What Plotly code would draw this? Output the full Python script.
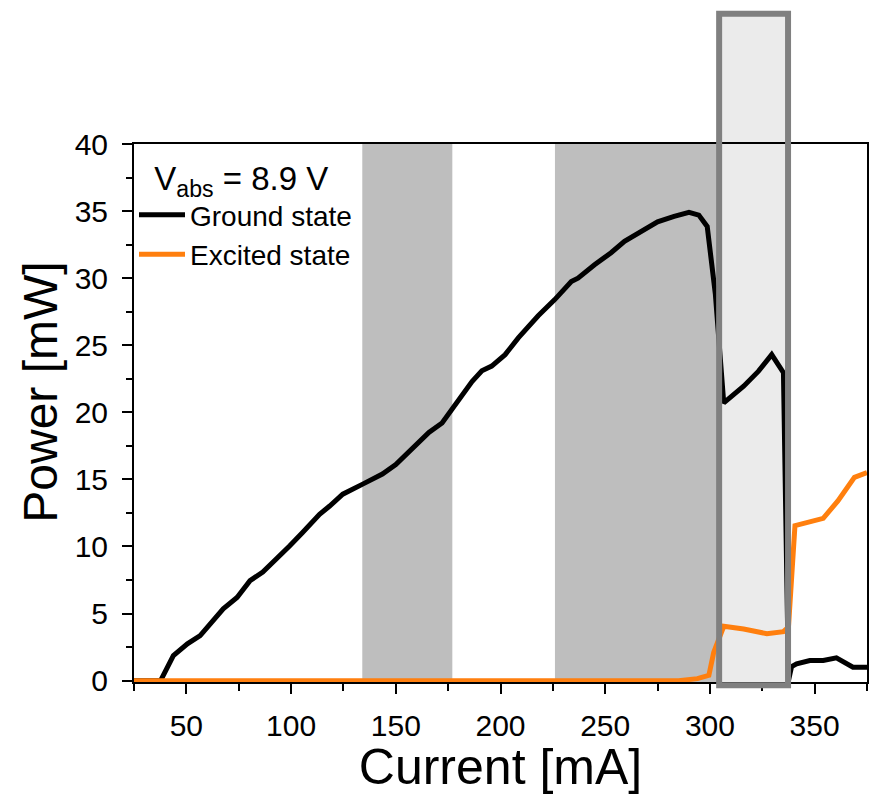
import plotly.graph_objects as go

# Ground-state (GS) output power vs. injection current
current_ground = [25, 37.7, 43.8, 50.5, 56.6, 62.8, 67.6, 74.2, 80.4, 86.5, 93.2, 99.4,
                  105.5, 113.6, 118.3, 124.7, 134.2, 143.6, 150.0, 157.9, 165.8, 172.1,
                  176.9, 181.6, 186.4, 191.1, 195.8, 202.2, 208.5, 218.0, 225.9, 233.8,
                  237.0, 244.9, 252.8, 259.2, 267.0, 275.0, 282.9, 290.0, 294.7, 298.7,
                  302.6, 306.6, 316.1, 323.2, 329.5, 335.1, 337.5, 339.0, 341.4, 347.7,
                  354.1, 360.4, 368.3, 375.0]
power_ground = [0.0, 0.0, 1.86, 2.75, 3.35, 4.4, 5.35, 6.2, 7.45, 8.1, 9.05, 10.05,
                11.05, 12.4, 13.0, 13.9, 14.65, 15.4, 16.1, 17.25, 18.5, 19.2,
                20.2, 21.2, 22.3, 23.1, 23.45, 24.3, 25.55, 27.2, 28.4, 29.75,
                30.0, 31.0, 31.9, 32.75, 33.5, 34.2, 34.6, 34.9, 34.7, 33.85,
                28.8, 20.7, 21.95, 23.07, 24.3, 22.95, 0.0, 1.05, 1.25, 1.5,
                1.5, 1.7, 1.0, 1.0]

# Excited-state (ES) output power vs. injection current
current_excited = [25, 100, 200, 285, 294, 299.5, 301.8, 306.6, 316.1, 327.2, 335.1,
                   337.5, 340.6, 354.1, 361.1, 369.0, 375.0]
power_excited = [0.0, 0.0, 0.0, 0.0, 0.15, 0.4, 2.1, 4.05, 3.85, 3.5, 3.65,
                 4.0, 11.55, 12.1, 13.4, 15.15, 15.5]

# Current windows shaded in grey, and the highlighted window
shaded_windows = [(134, 177), (226, 304.4)]
highlight_window = (304.4, 337.3)

x_ticks = [50, 100, 150, 200, 250, 300, 350]
y_ticks = [0, 5, 10, 15, 20, 25, 30, 35, 40]

FONT = "Liberation Sans, Arial, sans-serif"

fig = go.Figure()
fig.add_trace(go.Scatter(x=current_ground, y=power_ground, mode="lines",
                         name="Ground state",
                         line=dict(color="black", width=5)))
fig.add_trace(go.Scatter(x=current_excited, y=power_excited, mode="lines",
                         name="Excited state",
                         line=dict(color="#FF7F0E", width=5)))

for x0, x1 in shaded_windows:
    fig.add_shape(type="rect", xref="x", yref="paper", x0=x0, x1=x1, y0=0, y1=1,
                  fillcolor="#BEBEBE", line=dict(width=0), layer="below")

# highlighted window: light fill under the curves, thick frame above them,
# reaching above the plotting area
fig.add_shape(type="rect", xref="x", yref="paper",
              x0=highlight_window[0], x1=highlight_window[1], y0=-0.006, y1=1.242,
              fillcolor="#EBEBEB", line=dict(width=0), layer="below")
fig.add_shape(type="rect", xref="x", yref="paper",
              x0=highlight_window[0], x1=highlight_window[1], y0=-0.006, y1=1.242,
              fillcolor="rgba(0,0,0,0)", line=dict(color="#808080", width=6),
              layer="above")

fig.add_annotation(text="Power [mW]", textangle=-90, xref="paper", yref="paper",
                   x=-0.128, y=0.538, xanchor="center", yanchor="middle",
                   showarrow=False, font=dict(family=FONT, size=48, color="black"))

axis_common = dict(showline=True, linecolor="black", linewidth=2, mirror=True,
                   ticks="outside", ticklen=10, tickwidth=2, tickcolor="black",
                   showgrid=False, zeroline=False, layer="below traces",
                   tickfont=dict(family=FONT, size=30, color="black"))

fig.update_xaxes(range=[25, 375], tickvals=x_ticks, ticklabelstandoff=6,
                 minor=dict(ticks="outside", ticklen=7, tickwidth=2,
                            tickcolor="black", dtick=25, tick0=0),
                 title=dict(text="Current [mA]", standoff=10,
                            font=dict(family=FONT, size=50, color="black")),
                 **axis_common)
fig.update_yaxes(range=[-0.1, 40], tickvals=y_ticks, ticklabelstandoff=8,
                 minor=dict(ticks="outside", ticklen=6, tickwidth=2,
                            tickcolor="black", dtick=2.5, tick0=0),
                 **axis_common)

fig.update_layout(
    width=870, height=795,
    margin=dict(l=134, r=1, t=144, b=113),
    paper_bgcolor="white", plot_bgcolor="white",
    font=dict(family=FONT, color="black"),
    showlegend=True,
    legend=dict(x=0.0, y=0.994, xanchor="left", yanchor="top",
                bgcolor="rgba(0,0,0,0)", borderwidth=0,
                font=dict(family=FONT, size=28, color="black"),
                title=dict(text="\u00a0\u00a0V<sub>abs</sub> = 8.9 V",
                           font=dict(family=FONT, size=33, color="black")),
                tracegroupgap=0, itemwidth=46),
)

fig.write_html("out.html")
